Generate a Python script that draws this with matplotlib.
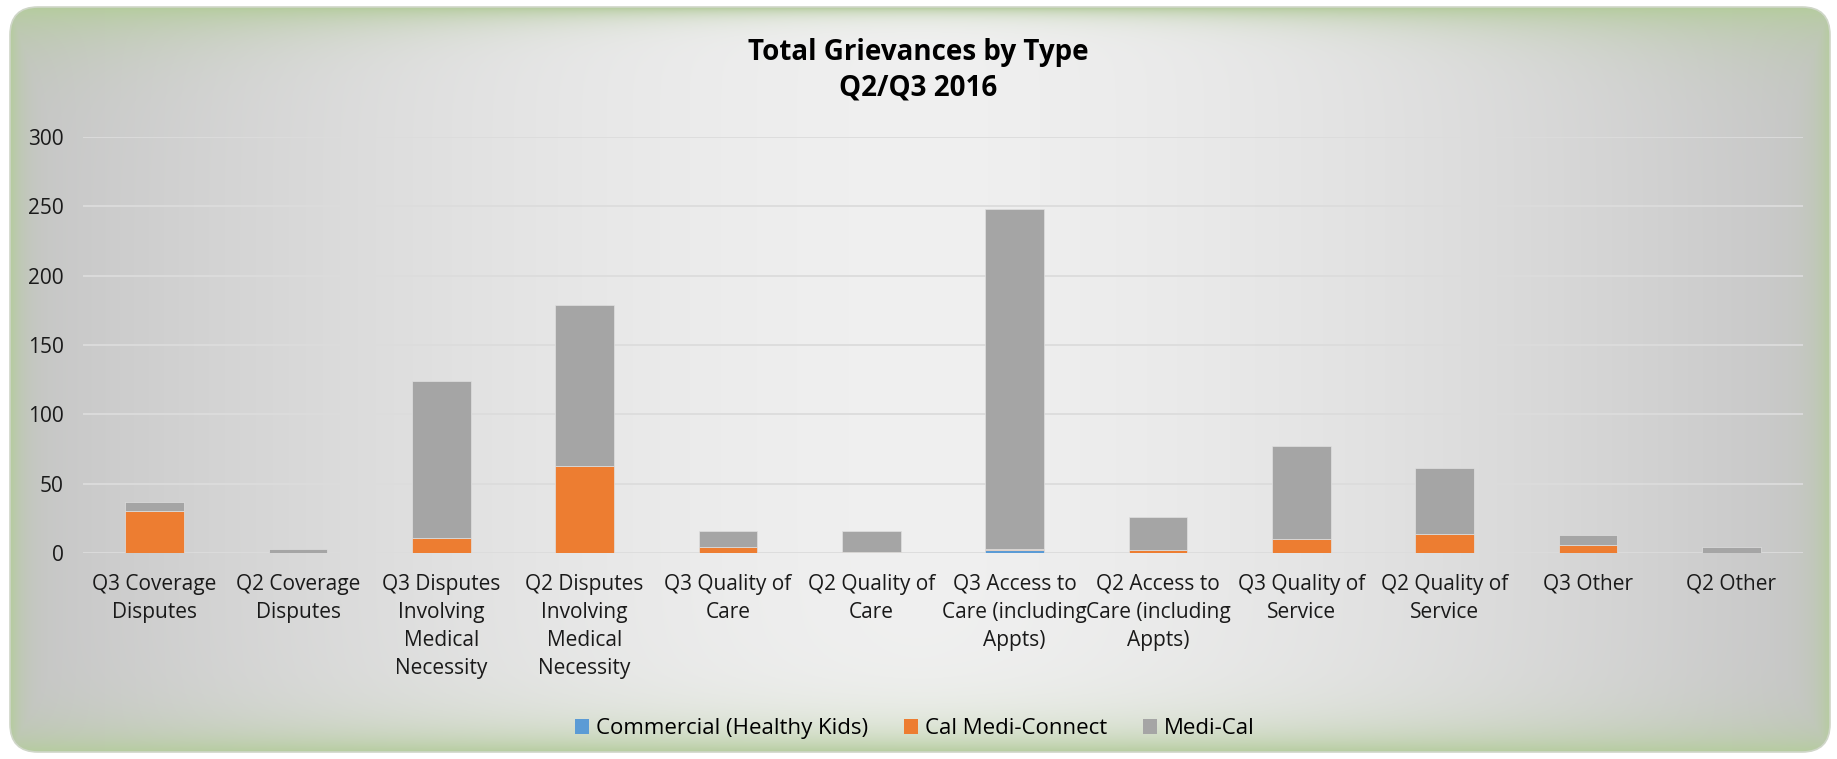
import numpy as np
import matplotlib
matplotlib.use('Agg')
import matplotlib.pyplot as plt
from matplotlib.patches import FancyBboxPatch, Patch

# dados
categorias = [
    "Q3 Coverage\nDisputes", "Q2 Coverage\nDisputes",
    "Q3 Disputes\nInvolving\nMedical\nNecessity", "Q2 Disputes\nInvolving\nMedical\nNecessity",
    "Q3 Quality of\nCare", "Q2 Quality of\nCare",
    "Q3 Access to\nCare (including\nAppts)", "Q2 Access to\nCare (including\nAppts)",
    "Q3 Quality of\nService", "Q2 Quality of\nService",
    "Q3 Other", "Q2 Other",
]
commercial = [0, 0, 0, 0, 0, 0, 2, 0, 0, 0, 0, 0]
cal_medi_connect = [30, 0, 11, 63, 4, 1, 1, 2, 10, 14, 6, 0]
medi_cal = [7, 3, 113, 116, 12, 15, 245, 24, 67, 47, 7, 4]
series = ["Commercial (Healthy Kids)", "Cal Medi-Connect", "Medi-Cal"]
cores = ['#5b9bd5', '#ed7d31', '#a5a5a5']
y_ticks = [0, 50, 100, 150, 200, 250, 300]

W, H = 1837, 759
plt.rcParams['font.family'] = ['Open Sans', 'DejaVu Sans']
fig = plt.figure(figsize=(W / 100, H / 100), dpi=100)
fig.patch.set_facecolor('white')

# fundo com gradiente e cantos arredondados
bg = fig.add_axes([0, 0, 1, 1], zorder=-10)
bg.set_xlim(0, W)
bg.set_ylim(0, H)
bg.axis('off')
X = np.broadcast_to(np.linspace(-1, 1, W)[None, :], (H, W))
px = np.broadcast_to(np.arange(W)[None, :], (H, W)).astype(float)
py = np.broadcast_to(np.arange(H)[:, None], (H, W)).astype(float)
cinza = 0.94 - 0.17 * np.abs(X) ** 1.6
img = np.dstack([cinza, cinza, cinza])
verde = np.array([0.71, 0.80, 0.62])
a_top = np.exp(-(py - 7) / (8 + 30 * np.abs(X) ** 2))
a_bot = np.exp(-(752 - py) / 24.0)
a_left = np.exp(-(px - 10) / 12.0)
a_right = np.exp(-(1830 - px) / 14.0)
a = np.clip(np.maximum.reduce([a_top, a_bot, a_left, a_right]), 0, 1)
img = img * (1 - a[..., None]) + verde * a[..., None]
im = bg.imshow(img, extent=[0, W, 0, H], origin='upper', aspect='auto')
painel = FancyBboxPatch((10, 7), 1820, 745, boxstyle='round,pad=0,rounding_size=28',
                        facecolor='none', edgecolor='#cfd6c8', linewidth=1.2)
bg.add_patch(painel)
im.set_clip_path(painel)

# grafico
ax = fig.add_axes([83 / W, 206 / H, (1803 - 83) / W, (622 - 206) / H])
ax.set_facecolor('none')
x = np.arange(len(categorias))
largura = 0.41
base = np.zeros(len(categorias))
for nome, vals, cor in zip(series, [commercial, cal_medi_connect, medi_cal], cores):
    ax.bar(x, vals, largura, bottom=base, color=cor, edgecolor='#e0e0e0',
           linewidth=0.5, label=nome, zorder=3)
    base = base + np.array(vals)

ax.set_xlim(-0.5, len(categorias) - 0.5)
ax.set_ylim(0, 300)
ax.set_yticks(y_ticks)
ax.set_xticks(x)
ax.set_xticklabels(categorias, fontsize=15, linespacing=1.45, color='#1a1a1a')
ax.tick_params(axis='y', length=0, pad=14, labelsize=15, labelcolor='#1a1a1a')
ax.tick_params(axis='x', length=0, pad=15)
ax.grid(axis='y', color='#dcdcdc', linewidth=1.3, zorder=0)
for s in ax.spines.values():
    s.set_visible(False)

fig.text(0.5, 0.908, "Total Grievances by Type\nQ2/Q3 2016", ha='center', va='center',
         fontsize=20, fontweight='bold', linespacing=1.3)

handles = [Patch(facecolor=c, label=n) for n, c in zip(series, cores)]
fig.legend(handles=handles, loc='center', bbox_to_anchor=(0.498, 0.040), ncol=3,
           frameon=False, fontsize=16, handlelength=0.65, handleheight=0.65,
           handletextpad=0.3, columnspacing=1.6)

fig.savefig('out.png', dpi=100)
